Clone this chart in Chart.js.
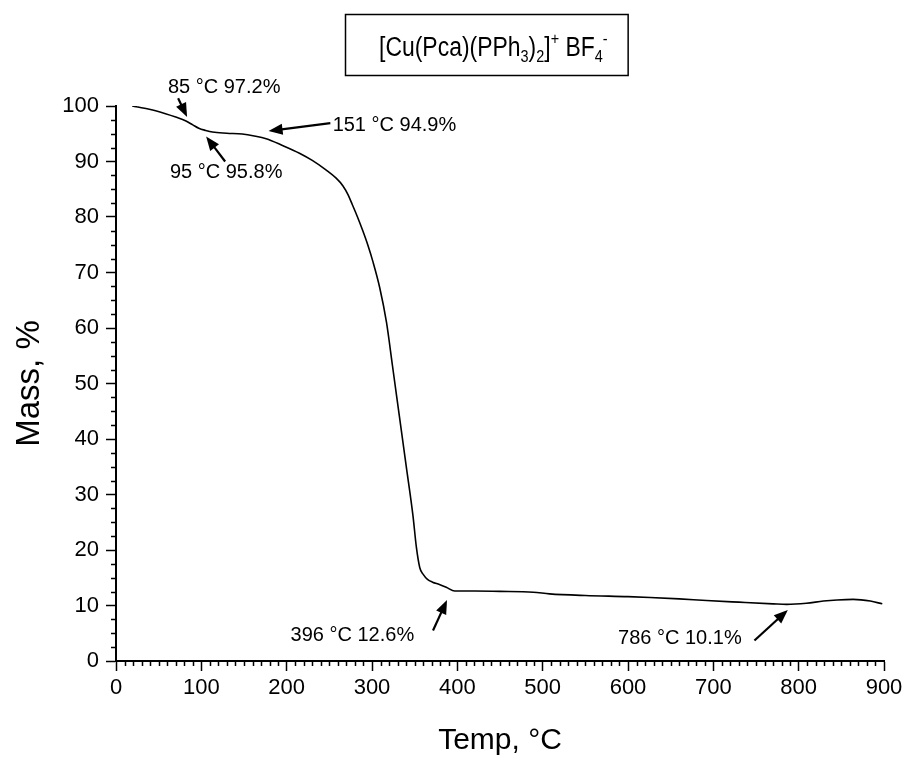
<!DOCTYPE html>
<html>
<head>
<meta charset="utf-8">
<script src="https://cdn.jsdelivr.net/npm/chart.js@4/dist/chart.umd.min.js"></script>
<style>
  html, body { margin: 0; padding: 0; background: #fff; }
  #wrap { width: 907px; height: 757px; }
</style>
</head>
<body>
<div id="wrap"><canvas id="c" width="907" height="757"></canvas></div>
<script>
// ---- data ----
const temps = [19, 39, 58, 70, 82, 90, 97, 105, 113, 130, 148, 162, 176, 195, 215, 230, 246, 258, 266, 272, 277, 283, 289, 295, 301, 309, 317, 324, 332, 340, 348, 352, 356, 360, 365, 371, 379, 387, 397, 420, 450, 489, 508, 550, 600, 626, 660, 692, 730, 770, 786, 809, 829, 845, 864, 884, 898];
const mass  = [100, 99.4, 98.6, 98.0, 97.3, 96.6, 96.0, 95.6, 95.3, 95.1, 94.95, 94.6, 94.1, 92.9, 91.5, 90.2, 88.5, 87.0, 85.6, 84.0, 82.2, 80.0, 77.6, 75.0, 72.0, 67.3, 61.0, 53.2, 44.2, 35.2, 26.2, 20.5, 16.8, 15.6, 14.7, 14.2, 13.8, 13.3, 12.6, 12.6, 12.55, 12.4, 12.1, 11.8, 11.6, 11.45, 11.2, 10.9, 10.6, 10.3, 10.2, 10.4, 10.8, 11.0, 11.1, 10.8, 10.3];
const xTickValues = [0, 100, 200, 300, 400, 500, 600, 700, 800, 900];
const yTickValues = [0, 10, 20, 30, 40, 50, 60, 70, 80, 90, 100];
const xTitle = 'Temp, °C';
const yTitle = 'Mass, %';
// title segments: text, mode (0 normal, -1 subscript, 1 superscript)
const titleParts = [['[Cu(Pca)(PPh', 0], ['3', -1], [')', 0], ['2', -1], [']', 0], ['+', 1], [' BF', 0], ['4', -1], ['-', 1]];
// annotations (label + arrow anchored in data units)
const annText  = ['85 °C 97.2%', '95 °C 95.8%', '151 °C 94.9%', '396 °C 12.6%', '786 °C 10.1%'];
const annLabelT = [126.8, 129.1, 326.3, 277.0, 660.8];
const annLabelM = [103.3, 88.0, 96.5, 4.6, 4.0];
const annTailT = [72.8, 127.9, 251.2, 371.5, 748.2];
const annTailM = [101.4, 90.0, 96.9, 5.5, 3.7];
const annHeadT = [83.3, 105.6, 178.8, 387.9, 787.3];
const annHeadM = [98.0, 94.5, 95.5, 11.0, 9.2];

const FONT = '"Liberation Sans", Arial, Helvetica, sans-serif';

function drawArrow(ctx, x0, y0, x1, y1) {
  const ang = Math.atan2(y1 - y0, x1 - x0);
  const L = 14, W = 5.5;
  ctx.save();
  ctx.strokeStyle = '#000'; ctx.fillStyle = '#000'; ctx.lineWidth = 2.2;
  ctx.beginPath();
  ctx.moveTo(x0, y0);
  ctx.lineTo(x1 - Math.cos(ang) * L * 0.8, y1 - Math.sin(ang) * L * 0.8);
  ctx.stroke();
  ctx.beginPath();
  ctx.moveTo(x1, y1);
  ctx.lineTo(x1 - Math.cos(ang) * L - Math.sin(ang) * W, y1 - Math.sin(ang) * L + Math.cos(ang) * W);
  ctx.lineTo(x1 - Math.cos(ang) * L + Math.sin(ang) * W, y1 - Math.sin(ang) * L - Math.cos(ang) * W);
  ctx.closePath();
  ctx.fill();
  ctx.restore();
}

const decorPlugin = {
  id: 'decor',
  afterDraw(chart) {
    const ctx = chart.ctx;
    const xs = chart.scales.x, ys = chart.scales.y;
    const area = chart.chartArea;
    ctx.save();
    // minor ticks
    ctx.strokeStyle = '#000'; ctx.lineWidth = 1.5;
    ctx.beginPath();
    for (let v = 10; v < 900; v += 10) {
      if (v % 100 === 0) continue;
      const px = Math.round(xs.getPixelForValue(v)) + 0.5;
      ctx.moveTo(px, area.bottom); ctx.lineTo(px, area.bottom + 5);
    }
    for (let v = 2.5; v < 100; v += 2.5) {
      if (Math.abs(v % 10) < 1e-6) continue;
      const py = Math.round(ys.getPixelForValue(v)) + 0.5;
      ctx.moveTo(area.left, py); ctx.lineTo(area.left - 5, py);
    }
    ctx.stroke();

    // axis titles
    ctx.fillStyle = '#000';
    ctx.textAlign = 'center'; ctx.textBaseline = 'middle';
    ctx.font = '30px ' + FONT;
    ctx.fillText(xTitle, (area.left + area.right) / 2, 741);
    ctx.save();
    ctx.font = '33px ' + FONT;
    ctx.translate(30, (area.top + area.bottom) / 2);
    ctx.rotate(-Math.PI / 2);
    ctx.fillText(yTitle, 0, 0);
    ctx.restore();

    // title box with sub/superscripts
    const big = 27, small = 17, sx = 0.85;
    let w = 0;
    titleParts.forEach(([t, m]) => {
      ctx.font = (m === 0 ? big : small) + 'px ' + FONT;
      w += ctx.measureText(t).width * sx;
    });
    const boxL = 345, boxT = 14, boxH = 61, padL = 34, padR = 20;
    const boxW = w + padL + padR;
    ctx.lineWidth = 1.5;
    ctx.strokeRect(boxL + 0.5, boxT + 0.5, boxW, boxH);
    let x = boxL + padL;
    const base = boxT + 42;
    ctx.textAlign = 'left'; ctx.textBaseline = 'alphabetic';
    titleParts.forEach(([t, m]) => {
      ctx.font = (m === 0 ? big : small) + 'px ' + FONT;
      const dy = m === -1 ? 6 : (m === 1 ? -12 : 0);
      ctx.save();
      ctx.translate(x, base + dy);
      ctx.scale(sx, 1);
      ctx.fillText(t, 0, 0);
      ctx.restore();
      x += ctx.measureText(t).width * sx;
    });

    // annotations
    ctx.font = '20px ' + FONT;
    ctx.textAlign = 'center'; ctx.textBaseline = 'middle';
    for (let i = 0; i < annText.length; i++) {
      ctx.fillText(annText[i], xs.getPixelForValue(annLabelT[i]), ys.getPixelForValue(annLabelM[i]));
      drawArrow(ctx, xs.getPixelForValue(annTailT[i]), ys.getPixelForValue(annTailM[i]),
                xs.getPixelForValue(annHeadT[i]), ys.getPixelForValue(annHeadM[i]));
    }
    ctx.restore();
  }
};

new Chart(document.getElementById('c'), {
  type: 'line',
  data: {
    datasets: [{
      data: temps.map((t, i) => ({ x: t, y: mass[i] })),
      borderColor: '#000',
      borderWidth: 1.6,
      pointRadius: 0,
      cubicInterpolationMode: 'monotone',
      fill: false
    }]
  },
  options: {
    responsive: false,
    animation: false,
    devicePixelRatio: 1,
    layout: { padding: { top: 106, right: 23, bottom: 0, left: 0 } },
    plugins: { legend: { display: false }, tooltip: { enabled: false }, title: { display: false } },
    scales: {
      x: {
        type: 'linear', min: 0, max: 900,
        afterBuildTicks: (s) => { s.ticks = xTickValues.map(v => ({ value: v })); },
        afterFit: (s) => { s.height = 96; },
        grid: { display: true, drawOnChartArea: false, drawTicks: true, tickLength: 10, tickColor: '#000', tickWidth: 1.5 },
        border: { display: true, color: '#000', width: 2 },
        ticks: { color: '#000', font: { size: 22, family: FONT }, padding: 4, maxRotation: 0, autoSkip: false }
      },
      y: {
        type: 'linear', min: 0, max: 100,
        afterBuildTicks: (s) => { s.ticks = yTickValues.map(v => ({ value: v })); },
        afterFit: (s) => { s.width = 116; },
        grid: { display: true, drawOnChartArea: false, drawTicks: true, tickLength: 10, tickColor: '#000', tickWidth: 1.5 },
        border: { display: true, color: '#000', width: 2 },
        ticks: { color: '#000', font: { size: 22, family: FONT }, padding: 7, autoSkip: false }
      }
    }
  },
  plugins: [decorPlugin]
});
</script>
</body>
</html>
